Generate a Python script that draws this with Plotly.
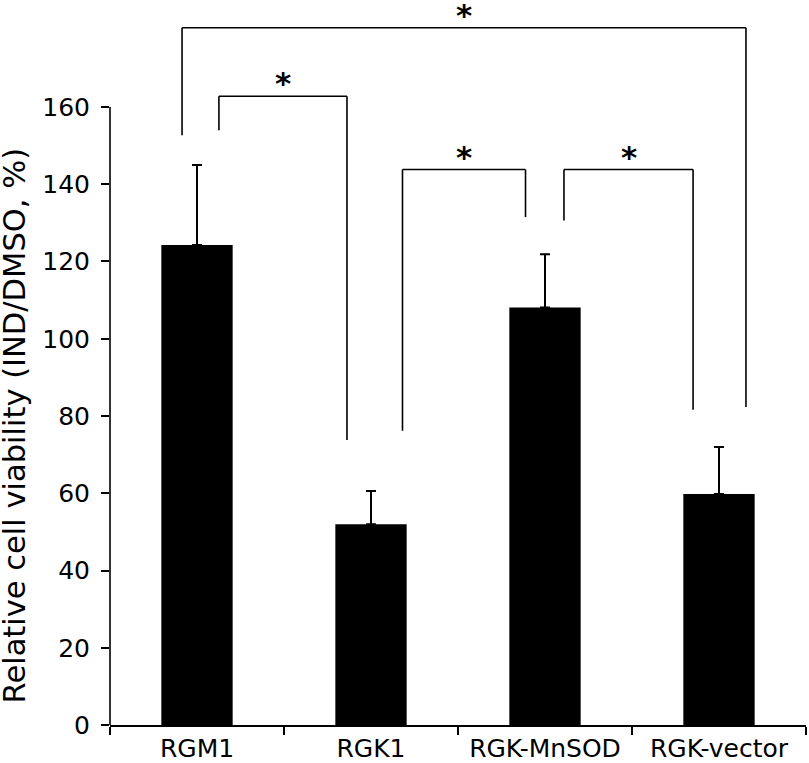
import plotly.graph_objects as go

# ---- data ----
categories = ["RGM1", "RGK1", "RGK-MnSOD", "RGK-vector"]
viability = [124.3, 52.0, 108.1, 59.8]
error_up = [20.7, 8.6, 13.8, 12.2]
y_tick_values = [0, 20, 40, 60, 80, 100, 120, 140, 160]
y_axis_max_tick = 160
y_title = "Relative cell viability (IND/DMSO, %)"

# significance brackets (x in category-index units, y in data units)
bracket_left = [-0.086, 0.126, 1.181, 2.109]
bracket_right = [3.155, 0.862, 1.888, 2.851]
bracket_top = [180.5, 162.8, 143.8, 143.8]
bracket_left_foot = [152.7, 154.0, 76.2, 130.6]
bracket_right_foot = [82.3, 73.8, 131.5, 81.6]
bracket_label = ["*", "*", "*", "*"]

FONT = "DejaVu Sans"

fig = go.Figure()
fig.add_trace(go.Bar(
    x=categories,
    y=viability,
    width=0.41,
    marker=dict(color="black", line=dict(width=0)),
    error_y=dict(type="data", symmetric=False, array=error_up,
                 arrayminus=[0] * len(error_up),
                 color="black", thickness=2, width=5),
    showlegend=False,
    hoverinfo="skip",
))

shapes = []
annotations = []
line_style = dict(color="black", width=1.6)
for xl, xr, yt, yl, yr, lab in zip(bracket_left, bracket_right, bracket_top,
                                   bracket_left_foot, bracket_right_foot, bracket_label):
    shapes.append(dict(type="line", xref="x", yref="y", x0=xl, x1=xl, y0=yl, y1=yt, line=line_style))
    shapes.append(dict(type="line", xref="x", yref="y", x0=xl, x1=xr, y0=yt, y1=yt, line=line_style))
    shapes.append(dict(type="line", xref="x", yref="y", x0=xr, x1=xr, y0=yt, y1=yr, line=line_style))
    annotations.append(dict(text="<b>" + lab + "</b>", x=(xl + xr) / 2, y=yt, xref="x", yref="y",
                            yanchor="middle", yshift=13, showarrow=False,
                            font=dict(family=FONT, size=31, color="black")))

# y axis line only up to the last tick
shapes.append(dict(type="line", xref="paper", yref="y", x0=0, x1=0, y0=0, y1=y_axis_max_tick,
                   line=dict(color="black", width=1.6)))

annotations.append(dict(text=y_title, xref="paper", yref="y", x=0, y=77.3,
                        xanchor="center", yanchor="middle", xshift=-96, textangle=-90,
                        showarrow=False, font=dict(family=FONT, size=30.5, color="black")))

fig.update_layout(
    width=809, height=763, autosize=False,
    margin=dict(l=110, r=3, t=0, b=38, pad=0),
    paper_bgcolor="white", plot_bgcolor="white",
    shapes=shapes, annotations=annotations,
    font=dict(family=FONT, color="black"),
    xaxis=dict(type="category", range=[-0.5, 3.5], showline=True, linecolor="black",
               linewidth=1.6, ticks="outside", ticklen=8, tickwidth=1.6, tickcolor="black",
               tickson="boundaries", showgrid=False, zeroline=False,
               tickfont=dict(family=FONT, size=25, color="black")),
    yaxis=dict(range=[0, 187.7], tickvals=y_tick_values, ticks="outside", ticklen=8,
               tickwidth=1.6, tickcolor="black", showline=False, showgrid=False,
               zeroline=False, ticklabelstandoff=6,
               tickfont=dict(family=FONT, size=25, color="black")),
)

# remove the default 8px page margin so the figure fills the window exactly
fig.write_html("out.html", config={"displayModeBar": False},
               post_script="document.body.style.margin='0';")
